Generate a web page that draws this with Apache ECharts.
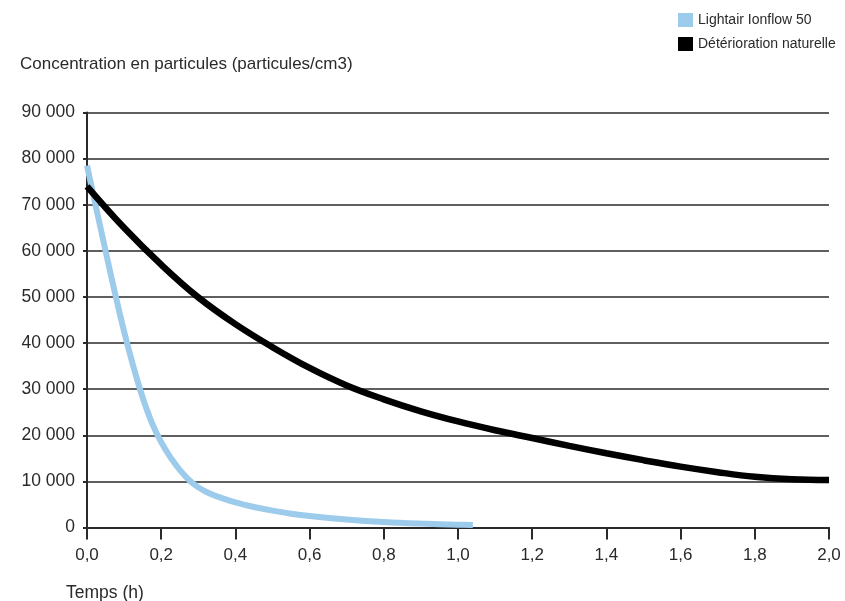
<!DOCTYPE html>
<html><head><meta charset="utf-8">
<script src="https://cdn.jsdelivr.net/npm/echarts@6/dist/echarts.min.js"></script>
<style>html,body{margin:0;padding:0;background:#fff}#c{width:845px;height:601px}</style>
</head><body><div id="c"></div>
<script>
const seriesNames = ['Lightair Ionflow 50', 'Détérioration naturelle'];
const ionflowX = [0, 0.025, 0.05, 0.075, 0.1, 0.125, 0.15, 0.175, 0.2, 0.225, 0.25, 0.275, 0.3, 0.325, 0.35, 0.4, 0.45, 0.5, 0.55, 0.6, 0.7, 0.8, 0.9, 1.0, 1.04];
const ionflowY = [78500, 69200, 60000, 51000, 42500, 34900, 28200, 22700, 18500, 15200, 12500, 10300, 8700, 7600, 6750, 5450, 4450, 3650, 3000, 2500, 1750, 1200, 850, 620, 560];
const naturalX = [0, 0.1, 0.2, 0.3, 0.4, 0.5, 0.6, 0.7, 0.8, 0.9, 1.0, 1.1, 1.2, 1.3, 1.4, 1.5, 1.6, 1.7, 1.8, 1.9, 2.0];
const naturalY = [74000, 65000, 57000, 49900, 44100, 39100, 34600, 30800, 27800, 25200, 23000, 21100, 19400, 17700, 16100, 14600, 13200, 12000, 11000, 10450, 10300];
const yTitle = 'Concentration en particules (particules/cm3)';
const xTitle = 'Temps (h)';

const font = '"Liberation Sans", Arial, sans-serif';
const ink = '#2a2a2a';
const chart = echarts.init(document.getElementById('c'), null, {renderer: 'canvas'});
chart.setOption({
  animation: false,
  textStyle: {fontFamily: font},
  title: [
    {text: yTitle, left: 20, top: 56, padding: 0, textStyle: {fontSize: 17, fontWeight: 'normal', color: ink, fontFamily: font}},
    {text: xTitle, left: 66, top: 584, padding: 0, textStyle: {fontSize: 17.5, fontWeight: 'normal', color: ink, fontFamily: font}}
  ],
  legend: {
    orient: 'vertical', left: 673, top: 8, itemWidth: 15, itemHeight: 14, itemGap: 10,
    icon: 'rect', textStyle: {fontSize: 14, color: ink, fontFamily: font},
    data: seriesNames
  },
  grid: {left: 87, right: 16, top: 112.5, bottom: 73.5, containLabel: false},
  xAxis: {
    type: 'value', min: 0, max: 2, interval: 0.2,
    axisLine: {show: true, lineStyle: {color: ink, width: 2}},
    axisTick: {show: true, length: 12, lineStyle: {color: ink, width: 2}},
    splitLine: {show: false},
    axisLabel: {fontSize: 17, color: ink, margin: 19, fontFamily: font,
      formatter: v => v.toFixed(1).replace('.', ',')}
  },
  yAxis: {
    type: 'value', min: 0, max: 90000, interval: 10000,
    axisLine: {show: true, lineStyle: {color: ink, width: 2}},
    axisTick: {show: true, length: 4, lineStyle: {color: ink, width: 2}},
    splitLine: {show: true, lineStyle: {color: ink, width: 1.5}},
    axisLabel: {fontSize: 17.5, color: ink, margin: 12, fontFamily: font,
      formatter: v => String(v).replace(/\B(?=(\d{3})+(?!\d))/g, ' ')}
  },
  series: [
    {name: seriesNames[0], type: 'line', smooth: 0.4, showSymbol: false, symbol: 'none',
     color: '#9ccbec', lineStyle: {width: 6, color: '#9ccbec', cap: 'butt'},
     data: ionflowX.map((x, i) => [x, ionflowY[i]])},
    {name: seriesNames[1], type: 'line', smooth: 0.4, showSymbol: false, symbol: 'none',
     color: '#000', lineStyle: {width: 6.5, color: '#000', cap: 'butt'},
     data: naturalX.map((x, i) => [x, naturalY[i]])}
  ]
});
</script></body></html>
